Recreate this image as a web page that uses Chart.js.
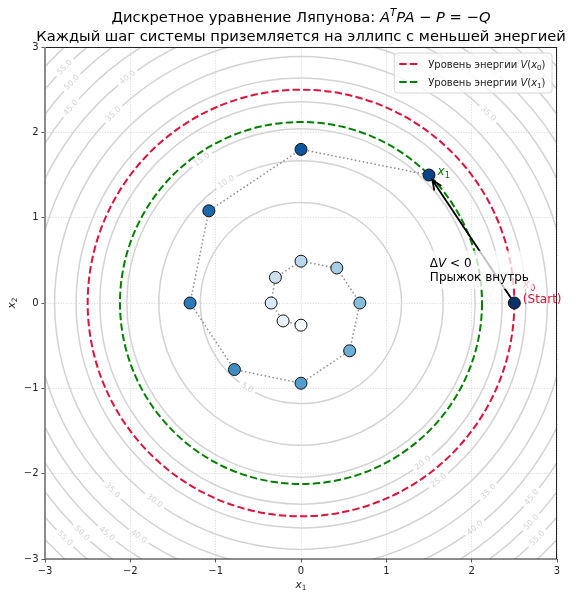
<!DOCTYPE html>
<html lang="ru">
<head>
    <meta charset="UTF-8">
    <title>Дискретное уравнение Ляпунова</title>
    <script src="https://cdn.jsdelivr.net/npm/chart.js"></script>
    <style>
        body { margin: 0; background: #fff; }
    </style>
</head>
<body>
    <canvas id="myChart" width="576" height="600"></canvas>
    <script>
        // траектория x_k
        var trajX = [2.50, 1.50, 0.00, -1.08, -1.30, -0.78, 0.00, 0.57, 0.69, 0.42, 0.00, -0.30, -0.35, -0.21, 0.00];
        var trajY = [0.00, 1.50, 1.80, 1.08, 0.00, -0.78, -0.94, -0.56, 0.00, 0.41, 0.49, 0.30, 0.00, -0.21, -0.26];
        // цвета точек (Blues, от тёмного к светлому)
        var pointColors = ['#08306b', '#084387', '#0c56a0', '#1a68ae', '#2a7aba', '#3d8dc4', '#549ecd', '#6baed6',
                           '#88bedc', '#a4cce3', '#bbd6eb', '#cde0f1', '#dbe9f6', '#e9f2fa', '#f7fbff'];
        // P = p * I
        var pDiag = 3.6;
        // уровни V(x) = const
        var contourLevels = [5, 10, 15, 20, 25, 30, 35, 40, 45, 50, 55, 60];
        // подписи уровней: [уровень, угол в градусах]
        var levelLabels = [
            [5, 237.6], [10, 121.7], [15, 124.7], [20, -52.7], [25, -52.2], [30, 233.5],
            [35, 134.8], [35, 45.3], [35, -45.2], [35, -135.2],
            [40, 127.6], [40, -52.3], [40, -124.8], [40, 55.3],
            [45, 139.7], [45, -40.1], [45, -130.1], [45, 51.0],
            [50, 136.1], [50, -43.6], [50, -133.6],
            [55, 135.1], [55, -44.9], [55, -135.1]
        ];
        var tickValues = [-3, -2, -1, 0, 1, 2, 3];

        var FONT = '"DejaVu Sans"';
        Chart.defaults.font.family = 'DejaVu Sans';
        Chart.defaults.color = '#222';

        // рисует строку из кусков: {t, i: курсив, s: 1 верхний / -1 нижний индекс}
        function drawRich(ctx, parts, x, y, size, align, color) {
            var fontOf = function (p) {
                return (p.i ? 'italic ' : '') + (p.s ? size * 0.7 : size) + 'px ' + FONT;
            };
            var total = 0;
            parts.forEach(function (p) { ctx.font = fontOf(p); total += ctx.measureText(p.t).width; });
            var cur = align === 'center' ? x - total / 2 : (align === 'right' ? x - total : x);
            ctx.save();
            ctx.fillStyle = color;
            ctx.textAlign = 'left';
            ctx.textBaseline = 'alphabetic';
            parts.forEach(function (p) {
                ctx.font = fontOf(p);
                var dy = p.s === 1 ? -size * 0.38 : (p.s === -1 ? size * 0.22 : 0);
                ctx.fillText(p.t, cur, y + dy);
                cur += ctx.measureText(p.t).width;
            });
            ctx.restore();
            return total;
        }

        function energy(i) {
            return pDiag * (trajX[i] * trajX[i] + trajY[i] * trajY[i]);
        }

        var ringsPlugin = {
            id: 'rings',
            beforeDatasetsDraw: function (chart) {
                var ctx = chart.ctx, a = chart.chartArea;
                var xs = chart.scales.x, ys = chart.scales.y;
                var cx = xs.getPixelForValue(0), cy = ys.getPixelForValue(0);
                var kx = xs.getPixelForValue(1) - cx, ky = cy - ys.getPixelForValue(1);

                ctx.save();
                ctx.beginPath();
                ctx.rect(a.left, a.top, a.right - a.left, a.bottom - a.top);
                ctx.clip();

                // серые линии уровня с разрывами под подписи
                ctx.font = '8px ' + FONT;
                ctx.lineWidth = 1.5;
                ctx.strokeStyle = '#d3d3d3';
                contourLevels.forEach(function (lev) {
                    var r = Math.sqrt(lev / pDiag);
                    var rx = r * kx, ry = r * ky;
                    var txt = lev.toFixed(1);
                    var half = (ctx.measureText(txt).width / 2 + 3) / rx;
                    var gaps = levelLabels.filter(function (l) { return l[0] === lev; })
                        .map(function (l) { return l[1] * Math.PI / 180; })
                        .sort(function (p, q) { return p - q; });
                    if (!gaps.length) {
                        ctx.beginPath();
                        ctx.ellipse(cx, cy, rx, ry, 0, 0, 2 * Math.PI);
                        ctx.stroke();
                    } else {
                        for (var g = 0; g < gaps.length; g++) {
                            var from = gaps[g] + half;
                            var to = (g + 1 < gaps.length ? gaps[g + 1] : gaps[0] + 2 * Math.PI) - half;
                            ctx.beginPath();
                            ctx.ellipse(cx, cy, rx, ry, 0, -from, -to, true);
                            ctx.stroke();
                        }
                    }
                });

                // подписи уровней
                ctx.fillStyle = '#d3d3d3';
                ctx.textAlign = 'center';
                ctx.textBaseline = 'middle';
                levelLabels.forEach(function (l) {
                    var r = Math.sqrt(l[0] / pDiag);
                    var th = l[1] * Math.PI / 180;
                    var px = cx + r * kx * Math.cos(th), py = cy - r * ky * Math.sin(th);
                    var rot = -th + Math.PI / 2;
                    while (rot > Math.PI / 2) rot -= Math.PI;
                    while (rot <= -Math.PI / 2) rot += Math.PI;
                    ctx.save();
                    ctx.translate(px, py);
                    ctx.rotate(rot);
                    ctx.fillText(l[0].toFixed(1), 0, 0);
                    ctx.restore();
                });

                // уровни энергии V(x0), V(x1)
                [[0, '#dc143c'], [1, '#008000']].forEach(function (e) {
                    var r = Math.sqrt(energy(e[0]) / pDiag);
                    ctx.beginPath();
                    ctx.setLineDash([7.4, 3.2]);
                    ctx.lineWidth = 2;
                    ctx.strokeStyle = e[1];
                    ctx.ellipse(cx, cy, r * kx, r * ky, 0, 0, 2 * Math.PI);
                    ctx.stroke();
                });
                ctx.restore();
            },
            afterDatasetsDraw: function (chart) {
                var ctx = chart.ctx, a = chart.chartArea;
                var xs = chart.scales.x, ys = chart.scales.y;

                // стрелка x0 -> x1
                var x0 = xs.getPixelForValue(trajX[0]), y0 = ys.getPixelForValue(trajY[0]);
                var x1 = xs.getPixelForValue(trajX[1]), y1 = ys.getPixelForValue(trajY[1]);
                var ang = Math.atan2(y1 - y0, x1 - x0);
                var sx = x0 + 7 * Math.cos(ang), sy = y0 + 7 * Math.sin(ang);
                var ex = x1 - 6 * Math.cos(ang), ey = y1 - 6 * Math.sin(ang);
                ctx.save();
                ctx.strokeStyle = '#000';
                ctx.lineWidth = 1.8;
                ctx.lineCap = 'round';
                ctx.beginPath();
                ctx.moveTo(sx, sy);
                ctx.lineTo(ex, ey);
                ctx.moveTo(ex - 10 * Math.cos(ang - 0.4), ey - 10 * Math.sin(ang - 0.4));
                ctx.lineTo(ex, ey);
                ctx.lineTo(ex - 10 * Math.cos(ang + 0.4), ey - 10 * Math.sin(ang + 0.4));
                ctx.stroke();
                ctx.restore();

                // подписи x0 и x1
                var lx0 = xs.getPixelForValue(2.6), ly0 = ys.getPixelForValue(0.0);
                drawRich(ctx, [{ t: 'x', i: true }, { t: '0', s: -1 }], lx0, ly0 - 15, 12, 'left', '#dc143c');
                drawRich(ctx, [{ t: '(Start)' }], lx0, ly0, 12, 'left', '#dc143c');
                drawRich(ctx, [{ t: 'x', i: true }, { t: '1', s: -1 }], xs.getPixelForValue(1.6), ys.getPixelForValue(1.5), 12, 'left', '#008000');

                // пояснение в полупрозрачной рамке
                var tx = xs.getPixelForValue(1.51), tb = ys.getPixelForValue(0.26);
                ctx.font = '12px ' + FONT;
                var w = ctx.measureText('Прыжок внутрь').width;
                ctx.save();
                ctx.fillStyle = 'rgba(255,255,255,0.75)';
                ctx.fillRect(tx - 4, tb - 30, w + 8, 38);
                ctx.restore();
                drawRich(ctx, [{ t: 'Δ' }, { t: 'V', i: true }, { t: ' < 0' }], tx, tb - 14, 12, 'left', '#000');
                drawRich(ctx, [{ t: 'Прыжок внутрь' }], tx, tb, 12, 'left', '#000');

                // рамка осей
                ctx.save();
                ctx.strokeStyle = '#222';
                ctx.lineWidth = 1;
                ctx.strokeRect(a.left, a.top + 0.5, a.right - a.left - 0.5, a.bottom - a.top - 0.5);
                ctx.strokeStyle = '#8a8a8a';
                ctx.lineWidth = 2;
                ctx.beginPath();
                ctx.moveTo(a.left, a.top);
                ctx.lineTo(a.left, a.bottom);
                ctx.stroke();
                ctx.restore();

                // легенда
                var items = [['#dc143c', '0'], ['#008000', '1']];
                var rowParts = function (sub) {
                    return [{ t: 'Уровень энергии ' }, { t: 'V', i: true }, { t: '(' }, { t: 'x', i: true }, { t: sub, s: -1 }, { t: ')' }];
                };
                ctx.font = '10px ' + FONT;
                var tw = ctx.measureText('Уровень энергии V(x)').width + 5;
                var right = a.right - 5, top = a.top + 6;
                var textX = right - 6 - tw;
                var left = textX - 34;
                ctx.save();
                ctx.beginPath();
                ctx.roundRect(left, top, right - left, 40, 3);
                ctx.fillStyle = 'rgba(255,255,255,0.8)';
                ctx.fill();
                ctx.strokeStyle = '#d6d6d6';
                ctx.lineWidth = 1;
                ctx.stroke();
                items.forEach(function (it, k) {
                    var yy = top + 11 + k * 18;
                    ctx.beginPath();
                    ctx.setLineDash([7.4, 3.2]);
                    ctx.strokeStyle = it[0];
                    ctx.lineWidth = 2;
                    ctx.moveTo(left + 5, yy);
                    ctx.lineTo(left + 25, yy);
                    ctx.stroke();
                    drawRich(ctx, rowParts(it[1]), textX, yy + 4, 10, 'left', '#222');
                });
                ctx.restore();
            },
            afterDraw: function (chart) {
                var ctx = chart.ctx, a = chart.chartArea;
                var mid = (a.left + a.right) / 2;
                drawRich(ctx, [
                    { t: 'Дискретное уравнение Ляпунова: ' }, { t: 'A', i: true }, { t: 'T', i: true, s: 1 },
                    { t: 'PA', i: true }, { t: ' − ' }, { t: 'P', i: true }, { t: ' = −' }, { t: 'Q', i: true }
                ], mid, 22, 14.7, 'center', '#000');
                drawRich(ctx, [{ t: 'Каждый шаг системы приземляется на эллипс с меньшей энергией' }], mid, 41, 14.7, 'center', '#000');

                // подписи осей
                drawRich(ctx, [{ t: 'x', i: true }, { t: '1', s: -1 }], mid, 588, 10.5, 'center', '#222');
                ctx.save();
                ctx.translate(15, (a.top + a.bottom) / 2);
                ctx.rotate(-Math.PI / 2);
                drawRich(ctx, [{ t: 'x', i: true }, { t: '2', s: -1 }], 0, 0, 10.5, 'center', '#222');
                ctx.restore();
            }
        };

        var points = trajX.map(function (v, i) { return { x: v, y: trajY[i] }; });

        function tickText(v) {
            return v < 0 ? '\u2212' + Math.abs(v) : String(v);
        }

        var axisCommon = {
            type: 'linear',
            min: tickValues[0],
            max: tickValues[tickValues.length - 1],
            border: { display: false, dash: [1, 1.6] },
            grid: {
                color: 'rgba(176,176,176,0.6)',
                lineWidth: 0.8,
                tickLength: 3.5,
                tickColor: '#333',
                tickWidth: 0.8
            },
            ticks: {
                stepSize: 1,
                padding: 3,
                font: { size: 10 },
                color: '#222',
                callback: tickText
            },
            afterBuildTicks: function (s) {
                s.ticks = tickValues.map(function (v) { return { value: v }; });
            }
        };

        var ctx = document.getElementById('myChart').getContext('2d');
        var myChart = new Chart(ctx, {
            type: 'scatter',
            data: {
                datasets: [{
                    label: 'x_k',
                    data: points,
                    order: 1,
                    showLine: false,
                    pointRadius: 6,
                    pointHoverRadius: 6,
                    pointBackgroundColor: pointColors,
                    pointBorderColor: '#111',
                    pointBorderWidth: 1
                }, {
                    label: 'траектория',
                    data: points,
                    order: 2,
                    showLine: true,
                    borderColor: 'rgba(128,128,128,0.9)',
                    borderWidth: 1.5,
                    borderDash: [1.5, 2.5],
                    pointRadius: 0
                }]
            },
            options: {
                responsive: false,
                animation: false,
                layout: { padding: { left: 0, right: 19, top: 47, bottom: 0 } },
                plugins: {
                    legend: { display: false },
                    title: { display: false },
                    tooltip: { enabled: false }
                },
                scales: {
                    x: Object.assign({}, axisCommon, {
                        position: 'bottom',
                        afterFit: function (s) { s.height = 41; }
                    }),
                    y: Object.assign({}, axisCommon, {
                        position: 'left',
                        afterFit: function (s) { s.width = 45; }
                    })
                }
            },
            plugins: [ringsPlugin]
        });
    </script>
</body>
</html>
